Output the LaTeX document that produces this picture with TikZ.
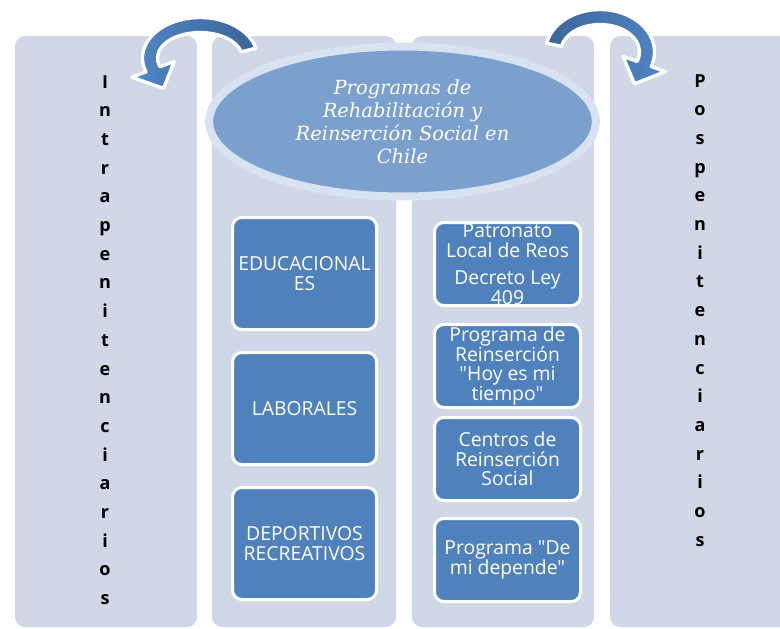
\documentclass[tikz,border=0pt]{standalone}
\usepackage{fontspec}
\usetikzlibrary{shapes.geometric}
\newfontfamily\titlefont{DejaVu Serif}
\newfontfamily\boxfont{Open Sans}
\definecolor{colbg}{HTML}{D0D8E8}
\definecolor{boxblue}{HTML}{4F81BD}
\definecolor{ellfill}{HTML}{7BA0CD}
\definecolor{ellring}{HTML}{D9E2F0}
\definecolor{arrowdark}{HTML}{3B6597}
\definecolor{arrowlight}{HTML}{4F86C6}
\begin{document}
\begin{tikzpicture}[x=0.75pt,y=-0.75pt,
  column/.style={fill=colbg, rounded corners=7.5pt},
  prog/.style={draw=white, line width=2.25pt, fill=boxblue, rounded corners=7pt,
    text=white, align=center, inner sep=0pt,
    font=\boxfont\fontsize{14.5}{14.7}\selectfont},
  leftbox/.style={prog, minimum width=108pt, minimum height=84pt},
  rightbox/.style={prog, minimum width=109.5pt, minimum height=62.25pt},
  letter/.style={font=\boxfont\bfseries\fontsize{13.5}{13.5}\selectfont, anchor=base, inner sep=0pt},
  curvedarrow/.style={draw=white, line width=2.5pt, line join=round}]
\useasboundingbox (0,0) rectangle (780,628);
\clip (0,0) rectangle (780,628);

% columns
\fill[column] (15,36) rectangle (197,627);
\fill[column] (212,36) rectangle (396,627);
\fill[column] (412,36) rectangle (594,627);
\fill[column] (610,36) rectangle (800,627);

% title ellipse
\node[ellipse, fill=ellfill, draw=ellring, line width=6pt,
  minimum width=290pt, minimum height=112.5pt, inner sep=0pt,
  text=white, align=center,
  font=\titlefont\itshape\fontsize{14.6}{17.25}\selectfont]
  (title) at (402.5,121.5) {Programas de\\Rehabilitación y\\Reinserción Social en\\Chile};

% left boxes
\node[leftbox] (edu) at (304.5,273.5) {EDUCACIONAL\\ES};
\node[leftbox] (lab) at (304.5,408.5) {LABORALES};
\node[leftbox] (dep) at (304.5,543.5) {DEPORTIVOS\\RECREATIVOS};

% right boxes
\node[rightbox] (pat) at (507.5,264) {Patronato\\Local de Reos\\[6pt]Decreto Ley\\409};
\node[rightbox] (hoy) at (507.5,366) {Programa de\\Reinserción\\"Hoy es mi\\tiempo"};
\node[rightbox] (cen) at (507.5,459) {Centros de\\Reinserción\\Social};
\node[rightbox] (dmd) at (507.5,560) {Programa "De\\mi depende"};

% vertical words
\foreach \ch [count=\i from 0] in {I,n,t,r,a,p,e,n,i,t,e,n,c,i,a,r,i,o,s}
  \node[letter] (intra\i) at (105,{88+28.7*\i}) {\ch};
\foreach \ch [count=\i from 0] in {P,o,s,p,e,n,i,t,e,n,c,i,a,r,i,o,s}
  \node[letter] (pos\i) at (700,{87+28.7*\i}) {\ch};

% left curved arrow
\shadedraw[curvedarrow, left color=arrowlight, right color=arrowdark]
  (200,58) ++(-14:57.5 and 40.5)
  arc[start angle=-14, end angle=-200, x radius=57.5, y radius=40.5]
  -- (131.9,77.2) -- (163.6,88.4) -- (174.2,61.5) -- (160.06,66.72)
  arc[start angle=-200, end angle=-14, x radius=42.5, y radius=25.5]
  -- cycle;

% right curved arrow
\shadedraw[curvedarrow, left color=arrowdark, right color=arrowlight]
  (600,52) ++(-168:54.5 and 42.5)
  arc[start angle=-168, end angle=20, x radius=54.5, y radius=42.5]
  -- (665.3,71.6) -- (634.5,83.8) -- (623,56.3) -- (637.12,61.41)
  arc[start angle=20, end angle=-168, x radius=39.5, y radius=27.5]
  -- cycle;
\end{tikzpicture}
\end{document}
